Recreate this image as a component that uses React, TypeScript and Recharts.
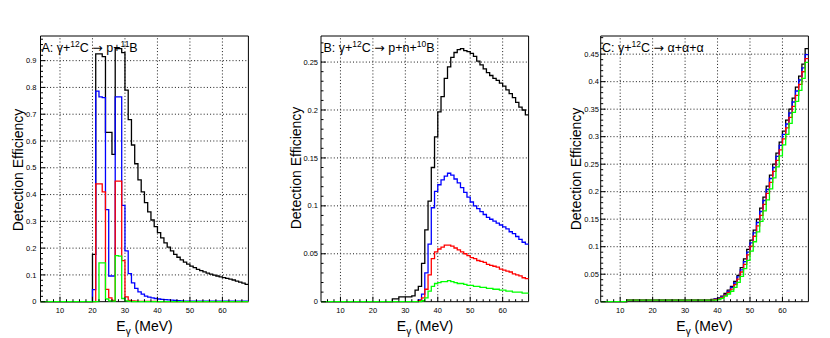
import { LineChart, Line, XAxis, YAxis, ReferenceLine, ReferenceArea } from "recharts";

// low edges of the 1 MeV bins, 4..67
const EDGES = [
  4, 5, 6, 7, 8, 9, 10, 11, 12, 13, 14, 15, 16, 17, 18, 19,
  20, 21, 22, 23, 24, 25, 26, 27, 28, 29, 30, 31, 32, 33, 34, 35,
  36, 37, 38, 39, 40, 41, 42, 43, 44, 45, 46, 47, 48, 49, 50, 51,
  52, 53, 54, 55, 56, 57, 58, 59, 60, 61, 62, 63, 64, 65, 66, 67,
];
const X_MAX = 68;

// A: gamma + 12C -> p + 11B
const A_BLACK = [
  0, 0, 0, 0, 0, 0, 0, 0, 0, 0, 0, 0, 0, 0, 0, 0,
  0.177, 0.925, 0.925, 0.915, 0.632, 0.632, 0.55, 0.945, 0.945, 0.93,
  0.79, 0.68, 0.585, 0.515, 0.455, 0.41, 0.37, 0.335, 0.305, 0.28,
  0.258, 0.238, 0.22, 0.204, 0.19, 0.177, 0.166, 0.156, 0.148, 0.14,
  0.133, 0.127, 0.121, 0.116, 0.111, 0.107, 0.103, 0.099, 0.096, 0.093,
  0.09, 0.087, 0.084, 0.081, 0.077, 0.073, 0.069, 0.065,
];
const A_BLUE = [
  0, 0, 0, 0, 0, 0, 0, 0, 0, 0, 0, 0, 0, 0, 0, 0,
  0.045, 0.786, 0.765, 0.762, 0.344, 0.096, 0.096, 0.765, 0.765, 0.36,
  0.19, 0.105, 0.07, 0.05, 0.037, 0.028, 0.021, 0.017, 0.014, 0.012,
  0.01, 0.009, 0.008, 0.007, 0.006, 0.005, 0.004, 0.003, 0.002, 0.002,
  0.002, 0.002, 0.002, 0.002, 0.002, 0.002, 0.002, 0.002, 0.002, 0.002,
  0.002, 0.002, 0.002, 0.002, 0.002, 0.002, 0.002, 0.002,
];
const A_RED = [
  0, 0, 0, 0, 0, 0, 0, 0, 0, 0, 0, 0, 0, 0, 0, 0,
  0, 0.44, 0.44, 0.41, 0.046, 0.014, 0.005, 0.45, 0.45, 0.153,
  0.018, 0.005, 0.003, 0.002, 0.001, 0.001, 0.001, 0.001, 0.001, 0.001,
  0, 0, 0, 0, 0, 0, 0, 0, 0, 0,
  0, 0, 0, 0, 0, 0, 0, 0, 0, 0,
  0, 0, 0, 0, 0, 0, 0, 0,
];
const A_GREEN = [
  0, 0, 0, 0, 0, 0, 0, 0, 0, 0, 0, 0, 0, 0, 0, 0,
  0, 0, 0.145, 0.145, 0.01, 0.003, 0.002, 0.172, 0.17, 0.012,
  0.003, 0.001, 0, 0, 0, 0, 0, 0, 0, 0,
  0, 0, 0, 0, 0, 0, 0, 0, 0, 0,
  0, 0, 0, 0, 0, 0, 0, 0, 0, 0,
  0, 0, 0, 0, 0, 0, 0, 0,
];

// B: gamma + 12C -> p + n + 10B
const B_BLACK = [
  0, 0, 0, 0, 0, 0, 0, 0, 0, 0, 0, 0, 0, 0, 0, 0,
  0, 0, 0, 0, 0, 0, 0.003, 0.003, 0.005, 0.005,
  0.005, 0.005, 0.006, 0.012, 0.016, 0.04, 0.075, 0.105, 0.14, 0.172,
  0.198, 0.214, 0.233, 0.245, 0.255, 0.26, 0.263, 0.264, 0.262, 0.261,
  0.259, 0.256, 0.251, 0.247, 0.243, 0.239, 0.236, 0.233, 0.231, 0.228,
  0.225, 0.221, 0.217, 0.213, 0.208, 0.203, 0.2, 0.195,
];
const B_BLUE = [
  0, 0, 0, 0, 0, 0, 0, 0, 0, 0, 0, 0, 0, 0, 0, 0,
  0, 0, 0, 0, 0, 0, 0, 0, 0, 0,
  0, 0, 0, 0, 0.002, 0.008, 0.03, 0.06, 0.098, 0.115,
  0.122, 0.127, 0.131, 0.134, 0.132, 0.128, 0.124, 0.119, 0.114, 0.109,
  0.104, 0.1, 0.097, 0.094, 0.091, 0.088, 0.086, 0.084, 0.082, 0.08,
  0.078, 0.076, 0.073, 0.071, 0.068, 0.065, 0.062, 0.06,
];
const B_RED = [
  0, 0, 0, 0, 0, 0, 0, 0, 0, 0, 0, 0, 0, 0, 0, 0,
  0, 0, 0, 0, 0, 0, 0, 0, 0, 0,
  0, 0, 0, 0, 0.001, 0.004, 0.013, 0.028, 0.045, 0.052,
  0.055, 0.057, 0.059, 0.059, 0.058, 0.056, 0.054, 0.052, 0.05, 0.048,
  0.046, 0.045, 0.043, 0.042, 0.041, 0.039, 0.038, 0.037, 0.036, 0.034,
  0.033, 0.032, 0.031, 0.029, 0.028, 0.027, 0.025, 0.024,
];
const B_GREEN = [
  0, 0, 0, 0, 0, 0, 0, 0, 0, 0, 0, 0, 0, 0, 0, 0,
  0, 0, 0, 0, 0, 0, 0, 0, 0, 0,
  0, 0, 0, 0, 0, 0.001, 0.004, 0.011, 0.016, 0.019,
  0.02, 0.021, 0.021, 0.022, 0.021, 0.02, 0.019, 0.019, 0.018, 0.017,
  0.017, 0.016, 0.016, 0.015, 0.015, 0.014, 0.014, 0.013, 0.013, 0.012,
  0.012, 0.011, 0.011, 0.01, 0.01, 0.01, 0.009, 0.009,
];

// C: gamma + 12C -> alpha + alpha + alpha
const C_BLACK = [
  0, 0, 0, 0, 0, 0, 0, 0, 0.003, 0.003, 0.003, 0.003, 0.003, 0.003, 0.003, 0.003,
  0.003, 0.003, 0.003, 0.003, 0.003, 0.003, 0.003, 0.003, 0.003, 0.003,
  0.003, 0.003, 0.003, 0.003, 0.003, 0.003, 0.003, 0.003,
  0.004, 0.005, 0.007, 0.01, 0.015, 0.021, 0.028, 0.037, 0.048, 0.062,
  0.078, 0.095, 0.112, 0.13, 0.15, 0.17, 0.19, 0.21, 0.23, 0.25,
  0.27, 0.29, 0.31, 0.33, 0.35, 0.37, 0.39, 0.41, 0.432, 0.46,
];
const C_BLUE = [
  0, 0, 0, 0, 0, 0, 0, 0, 0.003, 0.003, 0.003, 0.003, 0.003, 0.003, 0.003, 0.003,
  0.003, 0.003, 0.003, 0.003, 0.003, 0.003, 0.003, 0.003, 0.003, 0.003,
  0.003, 0.003, 0.003, 0.003, 0.003, 0.003, 0.003, 0.003,
  0.003, 0.005, 0.006, 0.009, 0.013, 0.019, 0.026, 0.034, 0.045, 0.058,
  0.073, 0.09, 0.107, 0.125, 0.144, 0.164, 0.184, 0.204, 0.224, 0.244,
  0.264, 0.284, 0.304, 0.323, 0.343, 0.363, 0.383, 0.403, 0.425, 0.449,
];
const C_RED = [
  0, 0, 0, 0, 0, 0, 0, 0, 0.003, 0.003, 0.003, 0.003, 0.003, 0.003, 0.003, 0.003,
  0.003, 0.003, 0.003, 0.003, 0.003, 0.003, 0.003, 0.003, 0.003, 0.003,
  0.003, 0.003, 0.003, 0.003, 0.003, 0.003, 0.003, 0.003,
  0.003, 0.004, 0.005, 0.008, 0.012, 0.017, 0.023, 0.031, 0.041, 0.054,
  0.068, 0.085, 0.101, 0.119, 0.138, 0.157, 0.177, 0.197, 0.217, 0.237,
  0.257, 0.276, 0.296, 0.316, 0.335, 0.355, 0.375, 0.395, 0.418, 0.442,
];
const C_GREEN = [
  0, 0, 0, 0, 0, 0, 0, 0, 0.003, 0.003, 0.003, 0.003, 0.003, 0.003, 0.003, 0.003,
  0.003, 0.003, 0.003, 0.003, 0.003, 0.003, 0.003, 0.003, 0.003, 0.003,
  0.003, 0.003, 0.003, 0.003, 0.003, 0.003, 0.003, 0.003,
  0.003, 0.003, 0.004, 0.006, 0.01, 0.014, 0.019, 0.026, 0.035, 0.046,
  0.06, 0.075, 0.092, 0.109, 0.127, 0.146, 0.165, 0.185, 0.205, 0.225,
  0.245, 0.265, 0.285, 0.304, 0.324, 0.344, 0.364, 0.384, 0.406, 0.435,
];

const X_MAJOR = [10, 20, 30, 40, 50, 60];
const X_TICKS = [
  6, 8, 10, 12, 14, 16, 18, 20, 22, 24, 26, 28, 30, 32, 34, 36,
  38, 40, 42, 44, 46, 48, 50, 52, 54, 56, 58, 60, 62, 64, 66,
];

// labelled y values and all tick positions (minor ticks included)
const A_Y_MAJOR = [0, 0.1, 0.2, 0.3, 0.4, 0.5, 0.6, 0.7, 0.8, 0.9];
const A_Y_TICKS = [
  0, 0.02, 0.04, 0.06, 0.08, 0.1, 0.12, 0.14, 0.16, 0.18, 0.2, 0.22, 0.24, 0.26, 0.28,
  0.3, 0.32, 0.34, 0.36, 0.38, 0.4, 0.42, 0.44, 0.46, 0.48, 0.5, 0.52, 0.54, 0.56, 0.58,
  0.6, 0.62, 0.64, 0.66, 0.68, 0.7, 0.72, 0.74, 0.76, 0.78, 0.8, 0.82, 0.84, 0.86, 0.88,
  0.9, 0.92, 0.94, 0.96, 0.98,
];
const B_Y_MAJOR = [0, 0.05, 0.1, 0.15, 0.2, 0.25];
const B_Y_TICKS = [
  0, 0.01, 0.02, 0.03, 0.04, 0.05, 0.06, 0.07, 0.08, 0.09, 0.1, 0.11, 0.12, 0.13,
  0.14, 0.15, 0.16, 0.17, 0.18, 0.19, 0.2, 0.21, 0.22, 0.23, 0.24, 0.25, 0.26, 0.27,
];
const C_Y_MAJOR = [0, 0.05, 0.1, 0.15, 0.2, 0.25, 0.3, 0.35, 0.4, 0.45];
const C_Y_TICKS = [
  0, 0.01, 0.02, 0.03, 0.04, 0.05, 0.06, 0.07, 0.08, 0.09, 0.1, 0.11, 0.12, 0.13, 0.14,
  0.15, 0.16, 0.17, 0.18, 0.19, 0.2, 0.21, 0.22, 0.23, 0.24, 0.25, 0.26, 0.27, 0.28, 0.29,
  0.3, 0.31, 0.32, 0.33, 0.34, 0.35, 0.36, 0.37, 0.38, 0.39, 0.4, 0.41, 0.42, 0.43, 0.44,
  0.45, 0.46, 0.47, 0.48,
];

const FONT = '"Liberation Sans", Arial, Helvetica, sans-serif';
const ARROW_FONT = '"DejaVu Sans", sans-serif';
const H = 338;

type Row = { e: number; black: number; blue: number; red: number; green: number };

function buildRows(black: number[], blue: number[], red: number[], green: number[]): Row[] {
  const rows = EDGES.map((e, i) => ({ e, black: black[i], blue: blue[i], red: red[i], green: green[i] }));
  const n = EDGES.length - 1;
  // closing point so the last bin gets its full width
  rows.push({ e: X_MAX, black: black[n], blue: blue[n], red: red[n], green: green[n] });
  return rows;
}

const fmt = (v: number) => (v === 0 ? "0" : String(Number(v.toFixed(3))));
const isMajor = (v: number, majors: number[]) => majors.some((m) => Math.abs(m - v) < 1e-6);

function XTick({ x, y, payload }: any) {
  const major = X_MAJOR.includes(payload.value);
  return (
    <g>
      <line x1={x} x2={x} y1={y} y2={y - (major ? 5 : 2.5)} stroke="#000" strokeWidth={1} />
      {major && (
        <text x={x} y={y + 11} textAnchor="middle" fontSize={7.5} fontFamily={FONT} fill="#000">
          {payload.value}
        </text>
      )}
    </g>
  );
}

function YTick({ x, y, payload, gap, majors }: any) {
  const major = isMajor(payload.value, majors);
  return (
    <g>
      <line x1={x} x2={x + (major ? 5 : 2.5)} y1={y} y2={y} stroke="#000" strokeWidth={1} />
      {major && (
        <text x={x - gap} y={y} dy="0.35em" textAnchor="end" fontSize={7.5} fontFamily={FONT} fill="#000">
          {fmt(payload.value)}
        </text>
      )}
    </g>
  );
}

interface PanelProps {
  left: number;
  width: number;
  mLeft: number;
  mRight: number;
  yMax: number;
  yMajor: number[];
  yTicks: number[];
  gap: number;
  data: Row[];
}

// axes are 1px wide/high (recharts skips 0-sized axes), margins absorb that pixel
function Panel({ left, width, mLeft, mRight, yMax, yMajor, yTicks, gap, data }: PanelProps) {
  return (
    <div style={{ position: "absolute", left, top: 0 }}>
      <LineChart width={width} height={H} data={data} margin={{ top: 36, right: mRight, bottom: 35.3, left: mLeft - 1 }}>
        {X_MAJOR.map((v) => (
          <ReferenceLine key={`x${v}`} x={v} stroke="#000" strokeWidth={0.9} strokeDasharray="1 2.2" />
        ))}
        {yMajor.filter((v) => v > 0).map((v) => (
          <ReferenceLine key={`y${v}`} y={v} stroke="#000" strokeWidth={0.9} strokeDasharray="1 2.2" />
        ))}
        <ReferenceArea x1={4} x2={X_MAX} y1={0} y2={yMax} fill="none" stroke="#000" strokeWidth={1} ifOverflow="visible" />
        <XAxis
          type="number"
          dataKey="e"
          domain={[4, X_MAX]}
          ticks={X_TICKS}
          interval={0}
          height={1}
          axisLine={false}
          tickLine={false}
          tickSize={0}
          tickMargin={0}
          tick={(p: any) => <XTick {...p} />}
        />
        <YAxis
          type="number"
          domain={[0, yMax]}
          ticks={yTicks}
          interval={0}
          width={1}
          axisLine={false}
          tickLine={false}
          tickSize={0}
          tickMargin={0}
          tick={(p: any) => <YTick {...p} gap={gap} majors={yMajor} />}
        />
        <Line type="stepAfter" dataKey="black" stroke="#000000" strokeWidth={1.3} dot={false} isAnimationActive={false} />
        <Line type="stepAfter" dataKey="blue" stroke="#0000ff" strokeWidth={1.3} dot={false} isAnimationActive={false} />
        <Line type="stepAfter" dataKey="red" stroke="#ff0000" strokeWidth={1.3} dot={false} isAnimationActive={false} />
        <Line type="stepAfter" dataKey="green" stroke="#00ff00" strokeWidth={1.3} dot={false} isAnimationActive={false} />
      </LineChart>
    </div>
  );
}

function XTitle({ cx }: { cx: number }) {
  return (
    <text x={cx} y={331} textAnchor="middle" fontSize={14} fontFamily={FONT} fill="#000">
      E<tspan dy={3.5} fontSize={10}>γ</tspan>
      <tspan dy={-3.5}> (MeV)</tspan>
    </text>
  );
}

function YTitle({ x, cy }: { x: number; cy: number }) {
  return (
    <text x={x} y={cy} transform={`rotate(-90 ${x} ${cy})`} textAnchor="middle" fontSize={14} fontFamily={FONT} fill="#000">
      Detection Efficiency
    </text>
  );
}

export default function App() {
  const dataA = buildRows(A_BLACK, A_BLUE, A_RED, A_GREEN);
  const dataB = buildRows(B_BLACK, B_BLUE, B_RED, B_GREEN);
  const dataC = buildRows(C_BLACK, C_BLUE, C_RED, C_GREEN);

  return (
    <div style={{ position: "absolute", left: 0, top: 0, width: 830, height: H, background: "#fff", overflow: "hidden" }}>
      <Panel left={0} width={277} mLeft={40.5} mRight={28.6} yMax={0.992} yMajor={A_Y_MAJOR} yTicks={A_Y_TICKS} gap={4} data={dataA} />
      <Panel left={277} width={277} mLeft={44} mRight={25.4} yMax={0.2772} yMajor={B_Y_MAJOR} yTicks={B_Y_TICKS} gap={3} data={dataB} />
      <Panel left={553} width={277} mLeft={47.7} mRight={21.6} yMax={0.483} yMajor={C_Y_MAJOR} yTicks={C_Y_TICKS} gap={1.8} data={dataC} />

      <svg width={830} height={H} style={{ position: "absolute", left: 0, top: 0, pointerEvents: "none" }}>
        <g fontFamily={FONT} fontSize={12.5} fill="#000">
          <text x={41.5} y={51.5}>
            A: γ+<tspan dy={-4.5} fontSize={8.5}>12</tspan>
            <tspan dy={4.5}>C </tspan>
            <tspan fontFamily={ARROW_FONT}>→</tspan> p+<tspan dy={-4.5} fontSize={8.5}>11</tspan>
            <tspan dy={4.5}>B</tspan>
          </text>
          <text x={323.5} y={51.5}>
            B: γ+<tspan dy={-4.5} fontSize={8.5}>12</tspan>
            <tspan dy={4.5}>C </tspan>
            <tspan fontFamily={ARROW_FONT}>→</tspan> p+n+<tspan dy={-4.5} fontSize={8.5}>10</tspan>
            <tspan dy={4.5}>B</tspan>
          </text>
          <text x={602} y={51.5}>
            C: γ+<tspan dy={-4.5} fontSize={8.5}>12</tspan>
            <tspan dy={4.5}>C </tspan>
            <tspan fontFamily={ARROW_FONT}>→</tspan> α+α+α
          </text>
        </g>
        <YTitle x={22.5} cy={170} />
        <YTitle x={300.5} cy={168} />
        <YTitle x={580.5} cy={169} />
        <XTitle cx={144.5} />
        <XTitle cx={425} />
        <XTitle cx={704.5} />
      </svg>
    </div>
  );
}
